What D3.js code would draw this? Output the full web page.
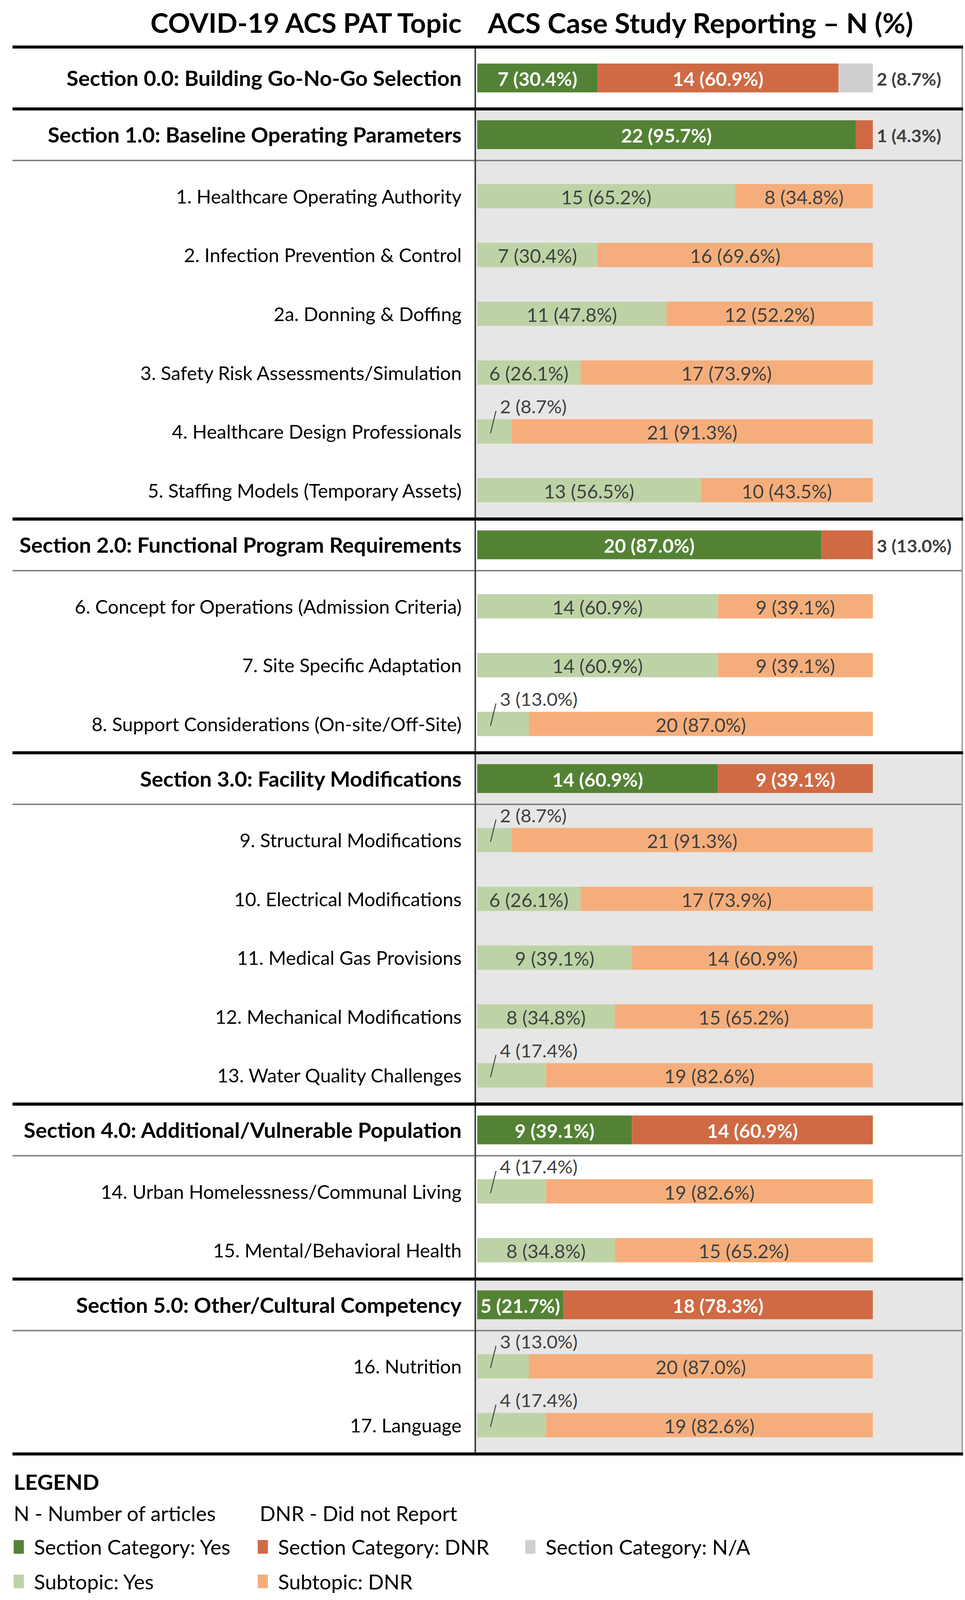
<!DOCTYPE html>
<html>
<head>
<meta charset="utf-8">
<script src="https://cdn.jsdelivr.net/npm/d3@7"></script>
<style>
  html, body { margin: 0; padding: 0; background: #fff; overflow: hidden; }
  svg { display: block; }
  text { font-family: "Lato", "Open Sans", sans-serif; }
</style>
</head>
<body>
<div id="vis"></div>
<script>
const FRAME_WIDTH = 2471;
const FRAME_HEIGHT = 4217;

// ---- data ----
const sectionNames = [
  "Section 0.0: Building Go-No-Go Selection",
  "Section 1.0: Baseline Operating Parameters",
  "Section 2.0: Functional Program Requirements",
  "Section 3.0: Facility Modifications",
  "Section 4.0: Additional/Vulnerable Population",
  "Section 5.0: Other/Cultural Competency"
];
const sectionYes = [7, 22, 20, 14, 9, 5];
const sectionDnr = [14, 1, 3, 9, 14, 18];
const sectionNA = [2, 0, 0, 0, 0, 0];
const sectionYesPct = ["30.4", "95.7", "87.0", "60.9", "39.1", "21.7"];
const sectionDnrPct = ["60.9", "4.3", "13.0", "39.1", "60.9", "78.3"];
const sectionNAPct = ["8.7", "", "", "", "", ""];

const subNames = [
  "1. Healthcare Operating Authority",
  "2. Infection Prevention & Control",
  "2a. Donning & Doffing",
  "3. Safety Risk Assessments/Simulation",
  "4. Healthcare Design Professionals",
  "5. Staffing Models (Temporary Assets)",
  "6. Concept for Operations (Admission Criteria)",
  "7. Site Specific Adaptation",
  "8. Support Considerations (On-site/Off-Site)",
  "9. Structural Modifications",
  "10. Electrical Modifications",
  "11. Medical Gas Provisions",
  "12. Mechanical Modifications",
  "13. Water Quality Challenges",
  "14. Urban Homelessness/Communal Living",
  "15. Mental/Behavioral Health",
  "16. Nutrition",
  "17. Language"
];
const subSection = [1, 1, 1, 1, 1, 1, 2, 2, 2, 3, 3, 3, 3, 3, 4, 4, 5, 5];
const subYes = [15, 7, 11, 6, 2, 13, 14, 14, 3, 2, 6, 9, 8, 4, 4, 8, 3, 4];
const subDnr = [8, 16, 12, 17, 21, 10, 9, 9, 20, 21, 17, 14, 15, 19, 19, 15, 20, 19];
const subYesPct = ["65.2", "30.4", "47.8", "26.1", "8.7", "56.5", "60.9", "60.9", "13.0",
  "8.7", "26.1", "39.1", "34.8", "17.4", "17.4", "34.8", "13.0", "17.4"];
const subDnrPct = ["34.8", "69.6", "52.2", "73.9", "91.3", "43.5", "39.1", "39.1", "87.0",
  "91.3", "73.9", "60.9", "65.2", "82.6", "82.6", "65.2", "87.0", "82.6"];

const legendLabels = ["Section Category: Yes", "Section Category: DNR", "Section Category: N/A",
  "Subtopic: Yes", "Subtopic: DNR"];

const TOTAL = 23;

// ---- colours ----
const C_SEC_YES = "#548235", C_SEC_DNR = "#CF6A44", C_SEC_NA = "#D0CECE";
const C_SUB_YES = "#BDD3A6", C_SUB_DNR = "#F5AE7B";
const C_BAND = "#E6E6E6";
const legendColors = [C_SEC_YES, C_SEC_DNR, C_SEC_NA, C_SUB_YES, C_SUB_DNR];

// ---- layout ----
const LEFT = 32, RIGHT = 2466, DIVIDER = 1217, LABEL_X = 1182;
const TOP = 124;
const SEC0_H = 163, SEC_H = 136, SUB_OFF = 94, SUB_STEP = 155, SUB_TAIL = 76;
const SEC_BAR_H = 76, SUB_BAR_H = 64;

const X = d3.scaleLinear().domain([0, TOTAL]).range([1222, 2235]);

// build row positions cumulatively
const sections = [];
const subRows = [];
let cursor = TOP;
sectionNames.forEach((name, i) => {
  const h = i === 0 ? SEC0_H : SEC_H;
  const sec = {i, name, top: cursor, headBottom: cursor + h, cy: cursor + h / 2};
  cursor += h;
  const kids = subNames.map((n, j) => j).filter(j => subSection[j] === i);
  kids.forEach((j, k) => {
    subRows.push({j, cy: sec.headBottom + SUB_OFF + k * SUB_STEP});
  });
  if (kids.length) cursor = sec.headBottom + SUB_OFF + (kids.length - 1) * SUB_STEP + SUB_TAIL;
  sec.bottom = cursor;
  sections.push(sec);
});

// the visible window can be a bit shorter than the frame: fit the drawing into it
const viewW = Math.min(FRAME_WIDTH, window.innerWidth || FRAME_WIDTH);
const viewH = Math.min(FRAME_HEIGHT, window.innerHeight || FRAME_HEIGHT);

const svg = d3.select("#vis").append("svg")
  .attr("width", viewW)
  .attr("height", viewH)
  .attr("viewBox", "0 0 " + FRAME_WIDTH + " " + FRAME_HEIGHT)
  .attr("preserveAspectRatio", "none");

svg.append("rect").attr("width", FRAME_WIDTH).attr("height", FRAME_HEIGHT).attr("fill", "#fff");

// title
svg.append("text")
  .attr("x", LABEL_X).attr("y", 60)
  .attr("text-anchor", "end").attr("dominant-baseline", "central")
  .attr("font-size", 70).attr("font-weight", 700)
  .text("COVID-19 ACS PAT Topic");
svg.append("text")
  .attr("x", 1249).attr("y", 60)
  .attr("dominant-baseline", "central")
  .attr("font-size", 72).attr("font-weight", 700)
  .text("ACS Case Study Reporting \u2013 N (%)");

// grey bands for alternating sections
svg.selectAll("rect.band")
  .data(sections.filter(s => s.i % 2 === 1))
  .enter().append("rect")
    .attr("class", "band")
    .attr("x", DIVIDER).attr("width", RIGHT - DIVIDER)
    .attr("y", d => d.top).attr("height", d => d.bottom - d.top)
    .attr("fill", C_BAND);

// ---- section bars ----
const secSegs = [];
sections.forEach(s => {
  const i = s.i;
  secSegs.push({s, x0: 0, n: sectionYes[i], pct: sectionYesPct[i], fill: C_SEC_YES, inside: true});
  secSegs.push({s, x0: sectionYes[i], n: sectionDnr[i], pct: sectionDnrPct[i], fill: C_SEC_DNR,
    inside: sectionDnr[i] > 4});
  if (sectionNA[i] > 0)
    secSegs.push({s, x0: sectionYes[i] + sectionDnr[i], n: sectionNA[i], pct: sectionNAPct[i],
      fill: C_SEC_NA, inside: false});
});

svg.selectAll("rect.secbar")
  .data(secSegs).enter().append("rect")
    .attr("x", d => X(d.x0))
    .attr("width", d => X(d.x0 + d.n) - X(d.x0))
    .attr("y", d => d.s.cy - SEC_BAR_H / 2)
    .attr("height", SEC_BAR_H)
    .attr("fill", d => d.fill);

svg.selectAll("text.secin")
  .data(secSegs.filter(d => d.inside)).enter().append("text")
    .attr("x", d => (X(d.x0) + X(d.x0 + d.n)) / 2)
    .attr("y", d => d.s.cy + 2)
    .attr("text-anchor", "middle").attr("dominant-baseline", "central")
    .attr("font-size", 49).attr("font-weight", 700).attr("fill", "#fff")
    .text(d => d.n + " (" + d.pct + "%)");

svg.selectAll("text.secout")
  .data(secSegs.filter(d => !d.inside)).enter().append("text")
    .attr("x", X(TOTAL) + 10)
    .attr("y", d => d.s.cy + 2)
    .attr("dominant-baseline", "central")
    .attr("font-size", 46).attr("font-weight", 700).attr("fill", "#404040")
    .text(d => d.n + " (" + d.pct + "%)");

svg.selectAll("text.seclabel")
  .data(sections).enter().append("text")
    .attr("x", LABEL_X).attr("y", d => d.cy)
    .attr("text-anchor", "end").attr("dominant-baseline", "central")
    .attr("font-size", 55).attr("font-weight", 700)
    .text(d => d.name);

// ---- subtopic bars ----
const subSegs = [];
subRows.forEach(r => {
  const j = r.j;
  subSegs.push({r, x0: 0, n: subYes[j], pct: subYesPct[j], fill: C_SUB_YES, small: subYes[j] < 5});
  subSegs.push({r, x0: subYes[j], n: subDnr[j], pct: subDnrPct[j], fill: C_SUB_DNR, small: false});
});

svg.selectAll("rect.subbar")
  .data(subSegs).enter().append("rect")
    .attr("x", d => X(d.x0))
    .attr("width", d => X(d.x0 + d.n) - X(d.x0))
    .attr("y", d => d.r.cy - SUB_BAR_H / 2)
    .attr("height", SUB_BAR_H)
    .attr("fill", d => d.fill);

svg.selectAll("text.subin")
  .data(subSegs.filter(d => !d.small)).enter().append("text")
    .attr("x", d => (X(d.x0) + X(d.x0 + d.n)) / 2)
    .attr("y", d => d.r.cy + 2)
    .attr("text-anchor", "middle").attr("dominant-baseline", "central")
    .attr("font-size", 49).attr("fill", "#404040")
    .text(d => d.n + " (" + d.pct + "%)");

// small values: label above with a leader line
const smalls = subSegs.filter(d => d.small);
svg.selectAll("line.leader")
  .data(smalls).enter().append("line")
    .attr("x1", d => X(d.x0) + 34).attr("y1", d => d.r.cy + 5)
    .attr("x2", d => X(d.x0) + 48).attr("y2", d => d.r.cy - SUB_BAR_H / 2 - 22)
    .attr("stroke", "#404040").attr("stroke-width", 2.5);
svg.selectAll("text.subout")
  .data(smalls).enter().append("text")
    .attr("x", d => X(d.x0) + 58)
    .attr("y", d => d.r.cy - SUB_BAR_H / 2 - 34)
    .attr("dominant-baseline", "central")
    .attr("font-size", 48).attr("fill", "#404040")
    .text(d => d.n + " (" + d.pct + "%)");

svg.selectAll("text.sublabel")
  .data(subRows).enter().append("text")
    .attr("x", LABEL_X).attr("y", d => d.cy)
    .attr("text-anchor", "end").attr("dominant-baseline", "central")
    .attr("font-size", 49)
    .text(d => subNames[d.j]);

// ---- rules ----
// thin grey line under each section header (where subtopics follow)
svg.selectAll("line.thin")
  .data(sections.filter(s => s.bottom > s.headBottom)).enter().append("line")
    .attr("x1", LEFT).attr("x2", RIGHT)
    .attr("y1", d => d.headBottom).attr("y2", d => d.headBottom)
    .attr("stroke", "#808080").attr("stroke-width", 4);

// vertical divider and right border
svg.append("line")
  .attr("x1", DIVIDER).attr("x2", DIVIDER)
  .attr("y1", TOP).attr("y2", sections[sections.length - 1].bottom)
  .attr("stroke", "#404040").attr("stroke-width", 4);
svg.append("line")
  .attr("x1", RIGHT - 2).attr("x2", RIGHT - 2)
  .attr("y1", TOP).attr("y2", sections[sections.length - 1].bottom)
  .attr("stroke", "#A6A6A6").attr("stroke-width", 4);

// thick black lines at section boundaries
const thickYs = [TOP].concat(sections.map(s => s.bottom));
svg.selectAll("line.thick")
  .data(thickYs).enter().append("line")
    .attr("x1", LEFT).attr("x2", RIGHT)
    .attr("y1", d => d).attr("y2", d => d)
    .attr("stroke", "#000").attr("stroke-width", 8);

// ---- legend ----
svg.append("text")
  .attr("x", 35).attr("y", 3905).attr("dominant-baseline", "central")
  .attr("font-size", 56).attr("font-weight", 700)
  .text("LEGEND");
svg.append("text")
  .attr("x", 35).attr("y", 3988).attr("dominant-baseline", "central")
  .attr("font-size", 53)
  .text("N - Number of articles");
svg.append("text")
  .attr("x", 665).attr("y", 3988).attr("dominant-baseline", "central")
  .attr("font-size", 53)
  .text("DNR - Did not Report");

const legendX = [35, 660, 1345, 35, 660];
const legendY = [4077, 4077, 4077, 4168, 4168];
const lg = svg.selectAll("g.key")
  .data(legendLabels).enter().append("g")
    .attr("transform", (d, i) => "translate(" + legendX[i] + "," + legendY[i] + ")");
lg.append("rect")
  .attr("x", 0).attr("y", -18).attr("width", 26).attr("height", 36)
  .attr("fill", (d, i) => legendColors[i]);
lg.append("text")
  .attr("x", 52).attr("y", 0).attr("dominant-baseline", "central")
  .attr("font-size", 53)
  .text(d => d);
</script>
</body>
</html>
